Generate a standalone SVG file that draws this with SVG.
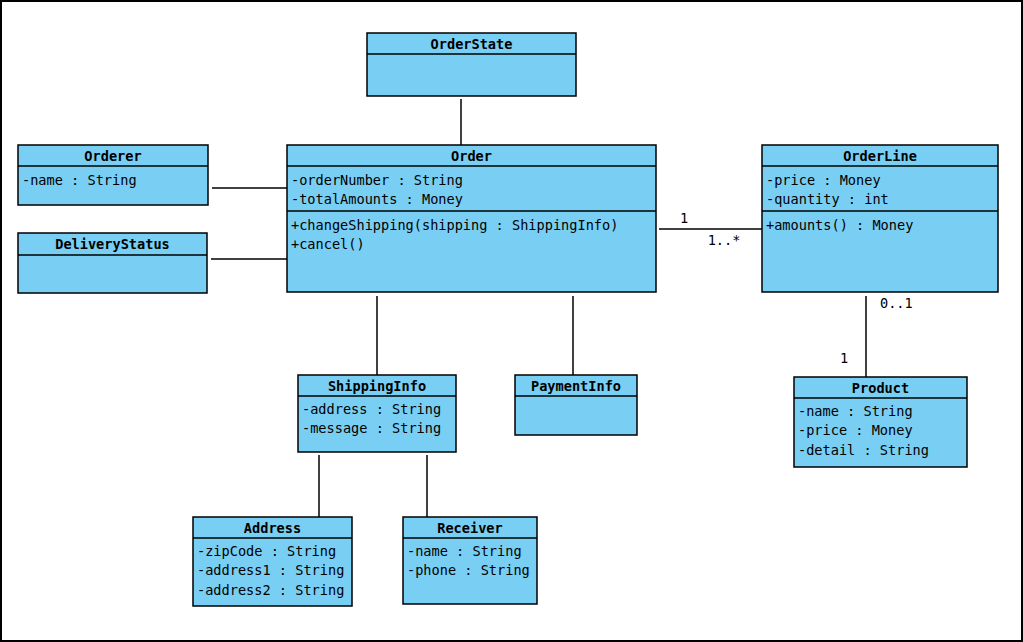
<svg xmlns="http://www.w3.org/2000/svg" width="1023" height="642" viewBox="0 0 1023 642">
<style>
.box{fill:#79CEF4;stroke:#000;stroke-width:1.5}
.div{stroke:#000;stroke-width:1.5}
.t{font-family:"DejaVu Sans Mono",monospace;font-size:13.6px;fill:#000}
.h{font-weight:bold;text-anchor:middle}
.c{stroke:#000;stroke-width:1.5;fill:none}
</style>
<rect x="1" y="1" width="1021" height="640" fill="#fff" stroke="#000" stroke-width="2"/>
<g id="connectors">
<line class="c" x1="461" y1="99" x2="461" y2="145"/>
<line class="c" x1="212" y1="188" x2="287" y2="188"/>
<line class="c" x1="211" y1="259" x2="287" y2="259"/>
<line class="c" x1="659" y1="229" x2="762" y2="229"/>
<line class="c" x1="377" y1="296" x2="377" y2="375"/>
<line class="c" x1="573" y1="296" x2="573" y2="375"/>
<line class="c" x1="319" y1="455" x2="319" y2="517"/>
<line class="c" x1="427" y1="455" x2="427" y2="517"/>
<line class="c" x1="866" y1="296" x2="866" y2="377"/>
<text class="t" x="684" y="223" text-anchor="middle">1</text>
<text class="t" x="724" y="245" text-anchor="middle">1..*</text>
<text class="t" x="880" y="308">0..1</text>
<text class="t" x="844" y="363" text-anchor="middle">1</text>
</g>
<g id="OrderState">
<rect class="box" x="367" y="33" width="209" height="63"/>
<line class="div" x1="367" y1="54" x2="576" y2="54"/>
<text class="t h" x="471.5" y="49">OrderState</text>
</g>
<g id="Order">
<rect class="box" x="287" y="145" width="369" height="147"/>
<line class="div" x1="287" y1="166" x2="656" y2="166"/>
<line class="div" x1="287" y1="211" x2="656" y2="211"/>
<text class="t h" x="471.5" y="161">Order</text>
<text class="t" x="291" y="185">-orderNumber : String</text>
<text class="t" x="291" y="204">-totalAmounts : Money</text>
<text class="t" x="291" y="230">+changeShipping(shipping : ShippingInfo)</text>
<text class="t" x="291" y="249">+cancel()</text>
</g>
<g id="Orderer">
<rect class="box" x="18" y="145" width="190" height="60"/>
<line class="div" x1="18" y1="166" x2="208" y2="166"/>
<text class="t h" x="113" y="161">Orderer</text>
<text class="t" x="22" y="185">-name : String</text>
</g>
<g id="DeliveryStatus">
<rect class="box" x="18" y="233" width="189" height="60"/>
<line class="div" x1="18" y1="255" x2="207" y2="255"/>
<text class="t h" x="112.5" y="249">DeliveryStatus</text>
</g>
<g id="OrderLine">
<rect class="box" x="762" y="145" width="236" height="147"/>
<line class="div" x1="762" y1="166" x2="998" y2="166"/>
<line class="div" x1="762" y1="211" x2="998" y2="211"/>
<text class="t h" x="880" y="161">OrderLine</text>
<text class="t" x="766" y="185">-price : Money</text>
<text class="t" x="766" y="204">-quantity : int</text>
<text class="t" x="766" y="230">+amounts() : Money</text>
</g>
<g id="ShippingInfo">
<rect class="box" x="298" y="375" width="158" height="77"/>
<line class="div" x1="298" y1="396" x2="456" y2="396"/>
<text class="t h" x="377" y="391">ShippingInfo</text>
<text class="t" x="302" y="414">-address : String</text>
<text class="t" x="302" y="433">-message : String</text>
</g>
<g id="PaymentInfo">
<rect class="box" x="515" y="375" width="122" height="60"/>
<line class="div" x1="515" y1="396" x2="637" y2="396"/>
<text class="t h" x="576" y="391">PaymentInfo</text>
</g>
<g id="Address">
<rect class="box" x="193" y="517" width="159" height="89"/>
<line class="div" x1="193" y1="538" x2="352" y2="538"/>
<text class="t h" x="272.5" y="533">Address</text>
<text class="t" x="197" y="556">-zipCode : String</text>
<text class="t" x="197" y="575">-address1 : String</text>
<text class="t" x="197" y="595">-address2 : String</text>
</g>
<g id="Receiver">
<rect class="box" x="403" y="517" width="134" height="87"/>
<line class="div" x1="403" y1="538" x2="537" y2="538"/>
<text class="t h" x="470" y="533">Receiver</text>
<text class="t" x="407" y="556">-name : String</text>
<text class="t" x="407" y="575">-phone : String</text>
</g>
<g id="Product">
<rect class="box" x="794" y="377" width="173" height="90"/>
<line class="div" x1="794" y1="398" x2="967" y2="398"/>
<text class="t h" x="880.5" y="393">Product</text>
<text class="t" x="798" y="416">-name : String</text>
<text class="t" x="798" y="435">-price : Money</text>
<text class="t" x="798" y="455">-detail : String</text>
</g>
</svg>
